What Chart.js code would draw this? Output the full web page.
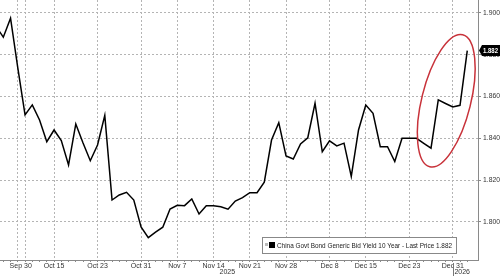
<!DOCTYPE html>
<html>
<head>
<meta charset="utf-8">
<script src="https://cdn.jsdelivr.net/npm/chart.js@4.4.1/dist/chart.umd.min.js"></script>
<style>
  body { margin: 0; background: #fff; }
  canvas { display: block; }
</style>
</head>
<body>
<canvas id="myChart" width="500" height="276"></canvas>
<script>
// 10y China govt bond yield, one value per trading day (index 0 sits just off the left edge)
const yields = [
    1.8936, 1.8884, 1.8975, 1.8737, 1.8512, 1.8560, 1.8488, 1.8384, 1.8440, 1.8389,
    1.8273, 1.8469, 1.8378, 1.8293, 1.8368, 1.8510, 1.8105, 1.8129, 1.8142, 1.8105,
    1.7976, 1.7925, 1.7951, 1.7975, 1.8062, 1.8080, 1.8078, 1.8110, 1.8038, 1.8078,
    1.8078, 1.8073, 1.8061, 1.8100, 1.8116, 1.8140, 1.8140, 1.8190, 1.8392, 1.8475,
    1.8316, 1.8301, 1.8373, 1.8403, 1.8568, 1.8336, 1.8388, 1.8364, 1.8377, 1.8218,
    1.8440, 1.8560, 1.8520, 1.8360, 1.8360, 1.8289, 1.8400, 1.8400, 1.8400, 1.8376,
    1.8353, 1.8584, 1.8567, 1.8550, 1.8558, 1.8820
];
const tickIdx = [3.4, 8, 14, 20, 25, 30, 35, 40, 46, 51, 57, 63];
const tickLabels = ['Sep 30', 'Oct 15', 'Oct 23', 'Oct 31', 'Nov 7', 'Nov 14', 'Nov 21', 'Nov 28', 'Dec 8', 'Dec 15', 'Dec 23', 'Dec 31'];
const gridIdx = [3, 4, 8, 14, 20, 25, 30, 35, 40, 46, 51, 57, 63];
const yearLabels = ['2025', '2026'];
const yearIdx = [31.9, 64.3];
const seriesLabel = 'China Govt Bond Generic Bid Yield 10 Year - Last Price 1.882';
const lastPrice = 1.882;

const fontFamily = '"Liberation Sans", Arial, sans-serif';
Chart.defaults.font.family = fontFamily;
Chart.defaults.font.size = 7;
Chart.defaults.color = '#333';

const gridColor = '#b4b4b4';
const axisColor = '#8a8a8a';

// draw text squeezed to a given width (the original uses a narrow face)
function narrowText(ctx, text, x, y, width) {
    let w = ctx.measureText(text).width;
    let k = Math.min(1, width / w);
    ctx.save();
    ctx.translate(x, y);
    ctx.scale(k, 1);
    ctx.fillText(text, 0, 0);
    ctx.restore();
}

const extras = {
    id: 'extras',
    afterDatasetsDraw(chart) {
        const ctx = chart.ctx;
        const xs = chart.scales.x;
        const ys = chart.scales.y;
        const area = chart.chartArea;

        // red circle round the last leg
        ctx.save();
        ctx.strokeStyle = '#c8323a';
        ctx.lineWidth = 1.5;
        ctx.beginPath();
        ctx.ellipse(xs.getPixelForValue(62.1), ys.getPixelForValue(1.858), 24.5, 68, 14 * Math.PI / 180, 0, Math.PI * 2);
        ctx.stroke();
        ctx.restore();

        // legend box
        let bx = area.right - 216, by = area.bottom - 23, bw = 194, bh = 16;
        ctx.save();
        ctx.fillStyle = '#fff';
        ctx.fillRect(bx, by, bw, bh);
        ctx.strokeStyle = '#888';
        ctx.lineWidth = 1;
        ctx.strokeRect(bx + 0.5, by + 0.5, bw, bh);
        ctx.fillStyle = '#bbb';
        ctx.fillRect(bx + 3, by + 6, 3, 3);
        ctx.fillStyle = '#000';
        ctx.fillRect(bx + 7, by + 5, 6, 6);
        ctx.fillStyle = '#222';
        ctx.font = '8px ' + fontFamily;
        ctx.textBaseline = 'middle';
        ctx.textAlign = 'left';
        narrowText(ctx, seriesLabel, bx + 15, by + 8.5, 175);
        ctx.restore();
    },
    afterDraw(chart) {
        const ctx = chart.ctx;
        const xs = chart.scales.x;
        const ys = chart.scales.y;
        const area = chart.chartArea;

        // last price tag on the right axis
        let py = ys.getPixelForValue(lastPrice);
        ctx.save();
        ctx.fillStyle = '#000';
        ctx.beginPath();
        ctx.moveTo(area.right + 1, py);
        ctx.lineTo(area.right + 4, py - 5.5);
        ctx.lineTo(500, py - 5.5);
        ctx.lineTo(500, py + 5.5);
        ctx.lineTo(area.right + 4, py + 5.5);
        ctx.closePath();
        ctx.fill();
        ctx.fillStyle = '#fff';
        ctx.font = 'bold 7px ' + fontFamily;
        ctx.textBaseline = 'middle';
        ctx.textAlign = 'left';
        narrowText(ctx, lastPrice.toFixed(3), area.right + 5, py + 0.5, 15);

        // year row
        ctx.fillStyle = '#333';
        ctx.font = '7px ' + fontFamily;
        ctx.textAlign = 'center';
        for (let i = 0; i < yearLabels.length; i++) {
            ctx.fillText(yearLabels[i], xs.getPixelForValue(yearIdx[i]), 272);
        }
        let sx = Math.round(xs.getPixelForValue(63.1)) + 0.5;
        ctx.strokeStyle = '#777';
        ctx.lineWidth = 1;
        ctx.beginPath();
        ctx.moveTo(sx, area.bottom + 3);
        ctx.lineTo(sx, 276);
        ctx.stroke();
        ctx.restore();
    }
};

const config = {
    type: 'line',
    data: {
        datasets: [{
            label: seriesLabel,
            data: yields.map((v, i) => ({x: i, y: v})),
            borderColor: '#000',
            borderWidth: 1.5,
            pointRadius: 0,
            tension: 0
        }]
    },
    options: {
        responsive: false,
        animation: false,
        layout: {padding: 0},
        plugins: {legend: {display: false}, tooltip: {enabled: false}},
        scales: {
            x: {
                type: 'linear',
                min: 0.545,
                max: 66.48,
                afterBuildTicks: (scale) => {
                    let t = [];
                    for (let i = 1; i <= 65; i++) t.push({value: i});
                    t.push({value: 3.4});
                    t.sort((a, b) => a.value - b.value);
                    scale.ticks = t;
                },
                afterFit: (scale) => {
                    scale.height = 16;
                    scale.paddingLeft = 0;
                    scale.paddingRight = 0;
                },
                ticks: {
                    autoSkip: false,
                    maxRotation: 0,
                    padding: 0,
                    callback: (val) => {
                        let k = tickIdx.indexOf(val);
                        return k >= 0 ? tickLabels[k] : '';
                    }
                },
                grid: {
                    color: (c) => (c.tick && gridIdx.includes(c.tick.value)) ? gridColor : 'rgba(0,0,0,0)',
                    tickColor: (c) => (c.tick && c.tick.value === 3.4) ? 'rgba(0,0,0,0)' : axisColor,
                    tickLength: 2,
                    lineWidth: 1
                },
                border: {color: axisColor, width: 1, dash: [2, 2]}
            },
            y: {
                position: 'right',
                min: 1.7818,
                max: 1.9062,
                afterFit: (scale) => {
                    scale.width = 22;
                    scale.paddingTop = 0;
                    scale.paddingBottom = 0;
                },
                ticks: {
                    stepSize: 0.02,
                    includeBounds: false,
                    padding: 2,
                    font: {size: 6.8},
                    callback: (v) => v.toFixed(3)
                },
                grid: {
                    color: gridColor,
                    tickColor: axisColor,
                    tickLength: 3,
                    lineWidth: 1
                },
                border: {color: axisColor, width: 1, dash: [2, 2]}
            }
        }
    },
    plugins: [extras]
};

var myChart = new Chart(document.getElementById('myChart'), config);
</script>
</body>
</html>
